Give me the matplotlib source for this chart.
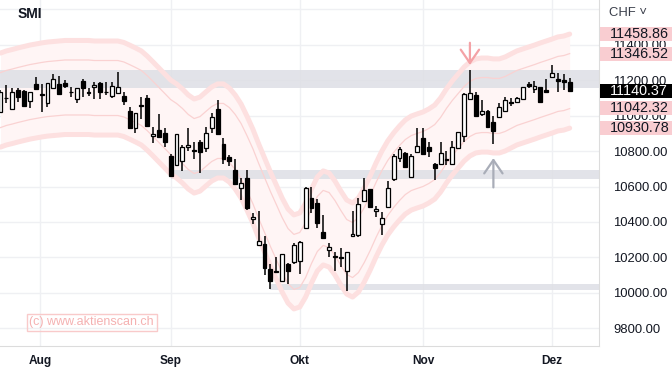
import matplotlib
matplotlib.use("Agg")
import matplotlib.pyplot as plt
import matplotlib.patches as patches
import numpy as np

plt.rcParams['font.family'] = ['Liberation Sans', 'DejaVu Sans']

# SMI daily candles (trading days, late Jul - early Dec)
opens = [11020, 11099, 11035, 11144, 11138, 11083, 11178, 11121, 11069, 11153,
         11178, 11185, 11132, 11093, 11194, 11130, 11159, 11181, 11132, 11112,
         11125, 11110, 11025, 10928, 11059, 11097, 10883, 10918, 10900, 10774,
         10721, 10744, 10821, 10803, 10849, 10815, 10928, 11035, 10838, 10764,
         10693, 10590, 10646, 10415, 10270, 10276, 10134, 10124, 10068, 10162,
         10173, 10182, 10364, 10533, 10505, 10342, 10242, 10204, 10201, 10126,
         10321, 10327, 10518, 10584, 10462, 10389, 10486, 10641, 10762, 10790,
         10652, 10793, 10872, 10821, 10725, 10727, 10753, 10727, 10815, 10884,
         11093, 11115, 11008, 11025, 10962, 10990, 11025, 11074, 11078, 11091,
         11176, 11148, 11159, 11144, 11215, 11204, 11200, 11190]
highs = [11144, 11172, 11153, 11153, 11144, 11134, 11219, 11178, 11183, 11234,
         11223, 11200, 11162, 11155, 11204, 11153, 11190, 11190, 11190, 11190,
         11243, 11131, 11046, 11014, 11103, 11115, 10937, 11008, 10931, 10783,
         10896, 10834, 10928, 10852, 10862, 10937, 11012, 11087, 10872, 10777,
         10753, 10646, 10693, 10449, 10462, 10323, 10163, 10204, 10220, 10171,
         10280, 10295, 10596, 10596, 10528, 10439, 10280, 10229, 10252, 10232,
         10462, 10537, 10646, 10586, 10490, 10455, 10631, 10781, 10824, 10794,
         10783, 10931, 10928, 10852, 10731, 10852, 10800, 10858, 10909, 11125,
         11256, 11131, 11087, 11031, 10997, 11072, 11106, 11100, 11106, 11162,
         11187, 11196, 11162, 11206, 11285, 11238, 11232, 11210]
lows = [11014, 11070, 11033, 11078, 11053, 11044, 11146, 11021, 11050, 11152,
        11115, 11153, 11103, 11069, 11103, 11112, 11093, 11093, 11115, 11097,
        11124, 11059, 10924, 10900, 10979, 10937, 10847, 10875, 10821, 10655,
        10718, 10689, 10802, 10753, 10674, 10796, 10903, 10890, 10727, 10717,
        10608, 10524, 10468, 10389, 10268, 10101, 10021, 10114, 10064, 10049,
        10162, 10105, 10359, 10452, 10364, 10302, 10204, 10126, 10148, 10013,
        10314, 10314, 10515, 10482, 10430, 10327, 10477, 10633, 10738, 10704,
        10651, 10787, 10777, 10768, 10637, 10721, 10721, 10721, 10813, 10852,
        11087, 10997, 10997, 10928, 10839, 10988, 11023, 11053, 11072, 11087,
        11157, 11125, 11076, 11130, 11214, 11131, 11144, 11140]
closes = [11132, 11096, 11131, 11103, 11055, 11131, 11148, 11118, 11181, 11204,
          11121, 11166, 11130, 11153, 11153, 11127, 11172, 11131, 11130, 11168,
          11159, 11083, 10931, 11012, 11056, 10941, 10894, 10881, 10852, 10659,
          10894, 10821, 10832, 10800, 10793, 10900, 10990, 10894, 10753, 10745,
          10612, 10618, 10477, 10430, 10295, 10139, 10069, 10121, 10218, 10126,
          10270, 10289, 10590, 10477, 10393, 10308, 10261, 10203, 10199, 10229,
          10332, 10500, 10580, 10483, 10473, 10421, 10593, 10774, 10811, 10708,
          10772, 10828, 10781, 10802, 10706, 10787, 10752, 10824, 10905, 11119,
          11125, 10999, 11025, 10937, 10914, 11046, 11087, 11073, 11097, 11159,
          11166, 11166, 11078, 11131, 11238, 11196, 11190, 11140.37]

# smoothed envelope centre and half widths
band_mid = [11087, 11099, 11107, 11116, 11124, 11132, 11138, 11144, 11149, 11152,
            11155, 11158, 11158, 11158, 11158, 11158, 11155, 11155, 11155, 11155,
            11155, 11147, 11132, 11116, 11099, 11070, 11037, 11003, 10969, 10935,
            10913, 10885, 10851, 10828, 10839, 10868, 10896, 10913, 10913, 10890,
            10851, 10800, 10732, 10659, 10575, 10496, 10417, 10344, 10270, 10208,
            10175, 10186, 10242, 10321, 10389, 10423, 10411, 10366, 10310, 10259,
            10242, 10270, 10327, 10394, 10468, 10535, 10592, 10637, 10676, 10710,
            10732, 10744, 10755, 10772, 10794, 10834, 10885, 10930, 10969, 11008,
            11037, 11054, 11059, 11059, 11054, 11054, 11065, 11082, 11099, 11110,
            11121, 11132, 11144, 11155, 11166, 11178, 11183, 11194]
band_inner = 155
band_outer = 265

# support / resistance zones: (start index, low, high)
zone_start = [-1, 29, 46]
zone_low = [11155, 10642, 10015]
zone_high = [11256, 10693, 10052]

# right-hand price labels
price_tags = [11458.86, 11346.52, 11042.32, 10930.78]
last_price = 11140.37

month_pos = [6.8, 29, 51, 72, 94]
month_names = ['Aug', 'Sep', 'Okt', 'Nov', 'Dez']
yticks = [9800, 10000, 10200, 10400, 10600, 10800, 11000, 11200, 11400]

W, H = 672, 373
fig = plt.figure(figsize=(W / 100, H / 100), dpi=100)
ax = fig.add_axes([0, 27.5 / H, 599.3 / W, 345.5 / H])
ax.set_xlim(-0.085, 102.05)
ax.set_ylim(9704, 11651)

idx = np.arange(len(opens))
o = np.array(opens, float)
c = np.array(closes, float)
hi = np.array(highs, float)
lo = np.array(lows, float)
mid = np.array(band_mid, float)

# grid
for v in range(9800, 11700, 200):
    ax.axhline(v, color='#eff0f3', lw=1, zorder=0.2)
for p in month_pos:
    ax.axvline(p, color='#eff0f3', lw=1, zorder=0.2)

# envelope
ax.fill_between(idx, mid - band_outer, mid + band_outer, color='#fff5f5', zorder=0.4, lw=0)
for sgn in (1, -1):
    ax.plot(idx, mid + sgn * band_outer, color='#fde0e0', lw=3.6, zorder=2, solid_capstyle='round')
    ax.plot(idx, mid + sgn * band_inner, color='#fad2d2', lw=0.9, zorder=2)

# zones
for s, zl, zh in zip(zone_start, zone_low, zone_high):
    ax.add_patch(patches.Rectangle((s, zl), 110 - s, zh - zl, facecolor='#dfe0e6',
                                   edgecolor='none', alpha=0.88, zorder=1))

# candles
up = c >= o
body_lo = np.minimum(o, c)
body_h = np.maximum(np.abs(c - o), 3)
ax.vlines(idx, lo, hi, color='black', lw=1.1, zorder=4)
ax.bar(idx, body_h, bottom=body_lo, width=0.66,
       color=np.where(up, 'white', 'black'), edgecolor='black', lw=0.9, zorder=5)

# arrows
ax.annotate('', xy=(80, 11285), xytext=(80, 11410),
            arrowprops=dict(arrowstyle='->,head_length=0.8,head_width=0.55', color='#f4a2a6',
                            lw=1.6, mutation_scale=12, shrinkA=0, shrinkB=0), zorder=6)
ax.annotate('', xy=(84, 10760), xytext=(84, 10595),
            arrowprops=dict(arrowstyle='->,head_length=0.8,head_width=0.55', color='#a9adb8',
                            lw=1.6, mutation_scale=12, shrinkA=0, shrinkB=0), zorder=6)

# axes styling
for s in ['top', 'left']:
    ax.spines[s].set_visible(False)
ax.spines['right'].set_color('#dcdcdc')
ax.spines['bottom'].set_color('#dcdcdc')
ax.yaxis.tick_right()
ax.set_yticks(yticks)
ax.set_yticklabels([f'{v:.2f}' for v in yticks])
ax.tick_params(axis='y', length=0, pad=10, labelsize=9.4, labelcolor='#131722')
ax.set_xticks(month_pos)
ax.set_xticklabels(month_names, fontweight='bold')
ax.tick_params(axis='x', length=0, pad=7, labelsize=8.6, labelcolor='#131722')

# price tags on the scale
ytr = ax.get_yaxis_transform()
x0, x1 = 1.0015, W / 599.3
for val in price_tags:
    ax.add_patch(patches.Rectangle((x0, val - 39), x1 - x0, 78, transform=ytr,
                                   facecolor='#f9cdd1', edgecolor='none', zorder=10, clip_on=False))
    ax.text(610 / 599.3, val, f'{val:.2f}', transform=ytr, fontsize=10.4, va='center',
            ha='left', color='#131722', zorder=11, clip_on=False)
ax.add_patch(patches.Rectangle((x0, last_price - 39), x1 - x0, 78, transform=ytr,
                               facecolor='black', edgecolor='none', zorder=10, clip_on=False))
ax.text(610 / 599.3, last_price, f'{last_price:.2f}', transform=ytr, fontsize=10.4,
        va='center', ha='left', color='white', zorder=11, clip_on=False)

fig.text(609 / W, 1 - 13 / H, 'CHF \u02c5', fontsize=9.4, va='center', ha='left', color='#3a3e4a')
fig.text(18 / W, 1 - 13.5 / H, 'SMI', fontsize=10, fontweight='bold', va='center', ha='left', color='#131722')
fig.text(29.5 / W, 1 - 322 / H, '(c) www.aktienscan.ch', fontsize=9, va='center', ha='left',
         color='#f5b1b1',
         bbox=dict(boxstyle='square,pad=0.2', facecolor='none', edgecolor='#f9caca', lw=1))

fig.savefig('out.png', dpi=100)
